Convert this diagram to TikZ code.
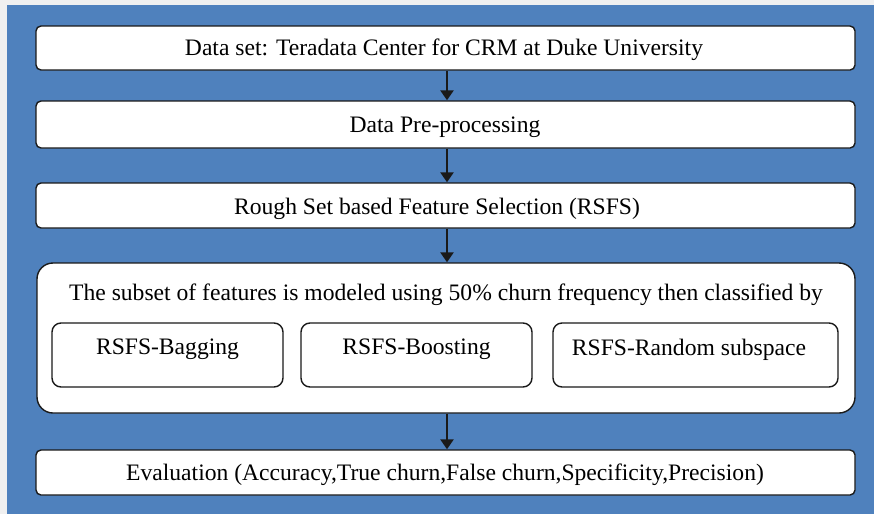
\documentclass[tikz,border=0pt]{standalone}
\usepackage{fontspec}
\setmainfont{Liberation Serif}
\usetikzlibrary{arrows.meta}
\definecolor{bgblue}{HTML}{4F81BD}
\definecolor{margingrey}{HTML}{F0F0F0}
\definecolor{edge}{HTML}{1A1A1A}
\begin{document}
\begin{tikzpicture}[x=1pt,y=-1pt,
  box/.style={draw=edge, line width=1.4pt, fill=white, rounded corners=5pt, inner sep=0pt},
  bigbox/.style={draw=edge, line width=1.4pt, fill=white, rounded corners=16pt, inner sep=0pt},
  subbox/.style={draw=edge, line width=1.4pt, fill=white, rounded corners=9pt, inner sep=0pt},
  txt/.style={font=\fontsize{23.6}{28}\selectfont, inner sep=0pt},
  arr/.style={line width=2.8pt, -{Triangle[length=10pt,width=13pt]}, edge}]
\useasboundingbox (0,0) rectangle (874,514);
\fill[margingrey] (0,0) rectangle (874,514);
\fill[bgblue] (7,5) rectangle (874,514);

\node[box, minimum width=819pt, minimum height=44pt] (b1) at (445.5,48) {};
\node[txt] (t1) at (444,49.5) {Data set: Teradata Center for CRM at Duke University};

\node[box, minimum width=819pt, minimum height=47pt] (b2) at (445.5,124.5) {};
\node[txt] (t2) at (445,127) {Data Pre-processing};

\node[box, minimum width=819pt, minimum height=45pt] (b3) at (445.5,205.5) {};
\node[txt] (t3) at (437,208.5) {Rough Set based Feature Selection (RSFS)};

\node[bigbox, minimum width=818pt, minimum height=150pt] (b4) at (446,338) {};
\node[txt] (t4) at (446,294.5) {The subset of features is modeled using 50\% churn frequency then classified by};

\node[subbox, minimum width=231pt, minimum height=64pt] (s1) at (167.5,355) {};
\node[txt] (l1) at (167.5,349.5) {RSFS-Bagging};
\node[subbox, minimum width=231pt, minimum height=64pt] (s2) at (416.5,355) {};
\node[txt] (l2) at (416.5,349.5) {RSFS-Boosting};
\node[subbox, minimum width=285pt, minimum height=64pt] (s3) at (695.5,355) {};
\node[txt] (l3) at (689,349.5) {RSFS-Random subspace};

\node[box, minimum width=819pt, minimum height=45pt] (b5) at (445.5,472.5) {};
\node[txt] (t5) at (445,474.5) {Evaluation (Accuracy,True churn,False churn,Specificity,Precision)};

\draw[arr] ([xshift=1.5pt]b1.south) -- ([xshift=1.5pt]b2.north);
\draw[arr] ([xshift=1.5pt]b2.south) -- ([xshift=1.5pt]b3.north);
\draw[arr] ([xshift=1.5pt]b3.south) -- ([xshift=1pt]b4.north);
\draw[arr] ([xshift=1pt]b4.south) -- ([xshift=1.5pt]b5.north);
\end{tikzpicture}
\end{document}
